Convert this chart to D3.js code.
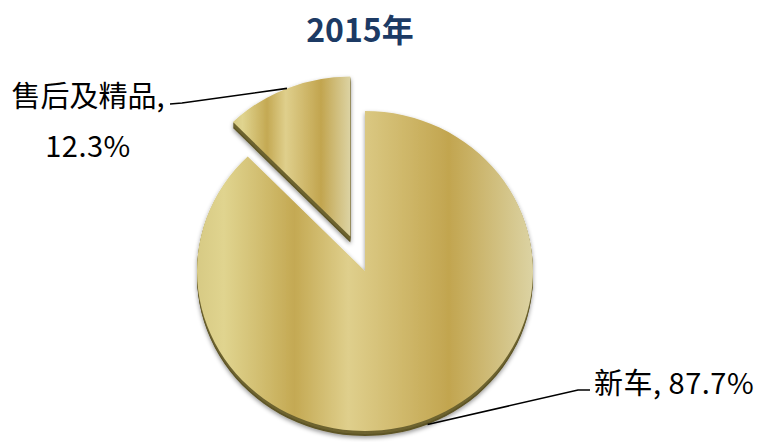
<!DOCTYPE html>
<html>
<head>
<meta charset="utf-8">
<script src="https://cdn.jsdelivr.net/npm/d3@7"></script>
<style>
  body { margin: 0; background: #fff; }
  svg { display: block; }
  text { font-family: "Noto Sans CJK SC", "Noto Sans", sans-serif; }
</style>
</head>
<body>
<script>
// data
const categories = ["新车", "售后及精品"];
const shares = [87.7, 12.3];
const labels = ["新车, 87.7%", "售后及精品,|12.3%"];
const exploded = ["售后及精品"];
const title = "2015年";

var width = 759, height = 442;
var cx = 365, cy = 271, r = 168, squash = 160 / 168, depth = 5, explodeBy = 39;

var svg = d3.select("body").append("svg").attr("width", width).attr("height", height);
var defs = svg.append("defs");

// gold bands
var goldStops = [[0, "#d7ca84"], [0.08, "#e0d48f"], [0.29, "#c4a953"], [0.45, "#dfcf8c"], [0.75, "#c2a54f"], [1, "#dcd3a3"]];
function gradient(id, user) {
	var g = defs.append("linearGradient").attr("id", id).attr("x1", user ? -r : 0).attr("x2", user ? r : 1).attr("y1", 0).attr("y2", 0);
	if (user) g.attr("gradientUnits", "userSpaceOnUse");
	goldStops.forEach(function (s) {
		g.append("stop").attr("offset", s[0]).attr("stop-color", s[1]);
	});
}
gradient("gold-main", true);
gradient("gold-box", false);

var f = defs.append("filter").attr("id", "shadow").attr("x", "-20%").attr("y", "-20%").attr("width", "140%").attr("height", "140%");
f.append("feDropShadow").attr("dx", 0).attr("dy", 2).attr("stdDeviation", 2).attr("flood-color", "#000").attr("flood-opacity", 0.4);

var pie = d3.pie().sort(null).value(function (d) { return d; });
var arc = d3.arc().innerRadius(0).outerRadius(r);
var slices = pie(shares);

slices.forEach(function (d, i) {
	var mid = (d.startAngle + d.endAngle) / 2;
	var off = exploded.includes(categories[i]) ? explodeBy : 0;
	d.ox = cx + Math.sin(mid) * off;
	d.oy = cy - Math.cos(mid) * off * squash;
	d.mid = mid;
	d.depth = off ? depth + 1 : depth;
});

var g = svg.selectAll("g.slice").data(slices).enter().append("g")
	.attr("class", "slice")
	.attr("filter", "url(#shadow)")
	.attr("transform", function (d) { return "translate(" + d.ox + "," + d.oy + ")"; });

// extruded side
g.each(function (d) {
	var s = d3.select(this);
	for (var k = d.depth; k >= 1; k--) {
		s.append("path")
			.attr("d", arc(d))
			.attr("transform", "translate(0," + k + ") scale(1," + squash + ")")
			.attr("fill", k > d.depth - 2 ? "#5e5527" : "#6e6430");
	}
});

// top face
g.append("path")
	.attr("d", arc)
	.attr("transform", "scale(1," + squash + ")")
	.attr("fill", function (d, i) { return exploded.includes(categories[i]) ? "url(#gold-box)" : "url(#gold-main)"; });

// title
svg.append("text")
	.attr("x", 360).attr("y", 28)
	.attr("text-anchor", "middle").attr("dominant-baseline", "central")
	.attr("font-size", 32).attr("font-weight", "bold").attr("fill", "#1c3a64")
	.text(title);

// leader lines + labels
var leaderAngle = [2.76, null];
var elbows = [[[578, 390], [590, 390]], [[182, 103], [170, 104]]];
slices.forEach(function (d, i) {
	var a = leaderAngle[i] == null ? d.mid : leaderAngle[i];
	var extra = leaderAngle[i] == null ? 0 : d.depth;
	var p0 = [d.ox + Math.sin(a) * r, d.oy - Math.cos(a) * r * squash + extra];
	svg.append("path")
		.attr("d", d3.line()([p0, elbows[i][0], elbows[i][1]]))
		.attr("fill", "none").attr("stroke", "#000").attr("stroke-width", 1.6);
});

svg.append("text")
	.attr("x", 594).attr("y", 381)
	.attr("dominant-baseline", "central")
	.attr("font-size", 29).attr("letter-spacing", 0.5).attr("fill", "#000")
	.text(labels[0]);

var lab2 = labels[1].split("|");
svg.append("text")
	.attr("x", 88).attr("y", 94)
	.attr("text-anchor", "middle").attr("dominant-baseline", "central")
	.attr("font-size", 29).attr("fill", "#000")
	.text(lab2[0]);
svg.append("text")
	.attr("x", 88).attr("y", 144)
	.attr("text-anchor", "middle").attr("dominant-baseline", "central")
	.attr("font-size", 29).attr("letter-spacing", 0.5).attr("fill", "#000")
	.text(lab2[1]);
</script>
</body>
</html>
